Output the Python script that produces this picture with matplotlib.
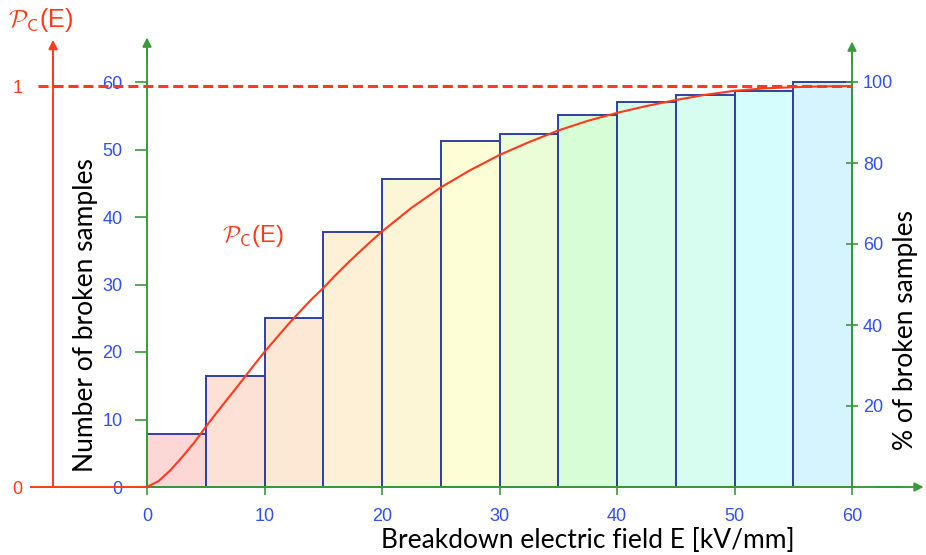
import matplotlib.pyplot as plt
import numpy as np

plt.rcParams['font.family'] = ['Liberation Sans', 'DejaVu Sans']

# breakdown field bins (kV/mm) and cumulative number of broken samples
bin_left = [0, 5, 10, 15, 20, 25, 30, 35, 40, 45, 50, 55]
n_broken = [7.8, 16.5, 25.0, 37.8, 45.6, 51.2, 52.3, 55.1, 57.1, 58.1, 58.7, 60.0]
bar_colors = ['#fdd6d6', '#fde0d6', '#fde8d6', '#fdf0d6', '#fdf6d6', '#fdfdd6',
              '#eafdd6', '#d6fdd6', '#d6fde8', '#d6fdf0', '#d6fdfd', '#d6f4fd']

# cumulative probability curve P_C(E)
curve_E = [0, 1, 2, 3, 4, 5, 6, 7, 8, 9, 10, 11, 12, 13, 14, 15, 16, 17, 18, 19, 20,
           22.5, 25, 27.5, 30, 32.5, 35, 37.5, 40, 42.5, 45, 47.5, 50, 52.5, 55,
           57.5, 60]
curve_P = [0, 0.015, 0.042, 0.075, 0.110, 0.150, 0.188, 0.225, 0.262, 0.300,
           0.337, 0.371, 0.405, 0.437, 0.468, 0.496, 0.527, 0.556, 0.584, 0.611,
           0.637, 0.696, 0.747, 0.790, 0.828, 0.860, 0.889, 0.913, 0.933, 0.950,
           0.965, 0.978, 0.988, 0.994, 0.997, 0.999, 1.0]

count_ticks = [0, 10, 20, 30, 40, 50, 60]
pct_ticks = [20, 40, 60, 80, 100]
x_ticks = [0, 10, 20, 30, 40, 50, 60]

green = '#3a9a3a'
blue = '#3050f0'
red = '#ff3a1a'
edge = '#3040a0'

W, H = 926, 555
# pixel geometry of the reference: x=0 at px 147, x=60 at px 852; y=0 at px 487, y=60 at px 82
px_x = (852 - 147) / 60
px_y = (487 - 82) / 60
xlim = (-147 / px_x, 60 + (W - 852) / px_x)
ylim = (-(H - 487) / px_y, 60 + 82 / px_y)

fig = plt.figure(figsize=(W / 100, H / 100), dpi=100)
ax = fig.add_axes([0, 0, 1, 1])
ax.set_xlim(xlim)
ax.set_ylim(ylim)
ax.patch.set_visible(False)

ax.bar(bin_left, n_broken, width=5, align='edge', color=bar_colors,
       edgecolor=edge, linewidth=1.4, zorder=2)

for s in ['top', 'right']:
    ax.spines[s].set_visible(False)
ax.spines['left'].set_position(('data', 0))
ax.spines['left'].set_bounds(0, 65)
ax.spines['bottom'].set_position(('data', 0))
ax.spines['bottom'].set_bounds(0, 64)
for s in ['left', 'bottom']:
    ax.spines[s].set_color(green)
    ax.spines[s].set_linewidth(1.4)
    ax.spines[s].set_zorder(3)

ax.set_yticks(count_ticks)
ax.set_xticks(x_ticks)
ax.tick_params(axis='y', direction='out', length=8.5, width=1.2, color=green,
               labelcolor=blue, labelsize=13, pad=9)
ax.tick_params(axis='x', direction='out', length=6, width=1.2, color=green,
               labelcolor=blue, labelsize=13, pad=9)

arrow = dict(arrowstyle='-|>', color=green, lw=1.4, mutation_scale=13,
             shrinkA=0, shrinkB=0)
ax.annotate('', xy=(0, 66.6), xytext=(0, 63), arrowprops=arrow)
ax.annotate('', xy=(60, 66.0), xytext=(60, 63), arrowprops=arrow)
ax.annotate('', xy=(66.1, 0), xytext=(62, 0), arrowprops=arrow)

# percentage axis on the right
ax3 = ax.twinx()
ax3.set_ylim(ylim[0] * 100 / 60, ylim[1] * 100 / 60)
ax3.patch.set_visible(False)
for s in ['top', 'left', 'bottom']:
    ax3.spines[s].set_visible(False)
ax3.spines['right'].set_position(('data', 60))
ax3.spines['right'].set_bounds(0, 106)
ax3.spines['right'].set_color(green)
ax3.spines['right'].set_linewidth(1.4)
ax3.set_yticks(pct_ticks)
ax3.tick_params(axis='y', direction='inout', length=8, width=1.2, color=green,
                labelcolor=blue, labelsize=13, pad=4)

# probability axis (red) on the far left
px_p = 487 - 86
ax2 = ax.twinx()
ax2.set_ylim(-(H - 487) / px_p, 1 + 86 / px_p)
ax2.patch.set_visible(False)
for s in ['top', 'right', 'bottom']:
    ax2.spines[s].set_visible(False)
ax2.yaxis.set_ticks_position('left')
ax2.yaxis.set_label_position('left')
ax2.spines['left'].set_visible(True)
ax2.spines['left'].set_position(('data', (53 - 147) / px_x))
ax2.spines['left'].set_bounds(0, 1.07)
ax2.spines['left'].set_color(red)
ax2.spines['left'].set_linewidth(1.4)
ax2.set_yticks([0, 1])
ax2.tick_params(axis='y', length=0, labelcolor=red, labelsize=13, pad=22)
ax2.annotate('', xy=((53 - 147) / px_x, 1.115), xytext=((53 - 147) / px_x, 1.0),
             arrowprops=dict(arrowstyle='-|>', color=red, lw=1.4, mutation_scale=13,
                             shrinkA=0, shrinkB=0))
ax2.hlines(0, (30 - 147) / px_x, 0, color=red, lw=1.4)
ax2.hlines(1, (38 - 147) / px_x, 60, color=red, lw=2.2, linestyles=(0, (3.3, 1.6)))
ax2.plot(curve_E, curve_P, color=red, lw=1.5, zorder=5)

# labels
lbl = dict(family='Lato', size=19, color='black')
fig.text(588 / W, 1 - 540 / H, 'Breakdown electric field E [kV/mm]',
         ha='center', va='center', **lbl)
fig.text(86 / W, 1 - 315 / H, 'Number of broken samples', rotation=90,
         ha='center', va='center', **lbl)
fig.text(905 / W, 1 - 330 / H, '% of broken samples', rotation=90,
         ha='center', va='center', **lbl)

pc = r'$\mathcal{P}_{\mathsf{C}}$(E)'
fig.text(8 / W, 1 - 20 / H, pc, color=red, fontsize=18, math_fontfamily='cm',
         ha='left', va='center')
fig.text(222 / W, 1 - 236 / H, pc, color=red, fontsize=17, math_fontfamily='cm',
         ha='left', va='center')

fig.savefig('out.png', dpi=100)
